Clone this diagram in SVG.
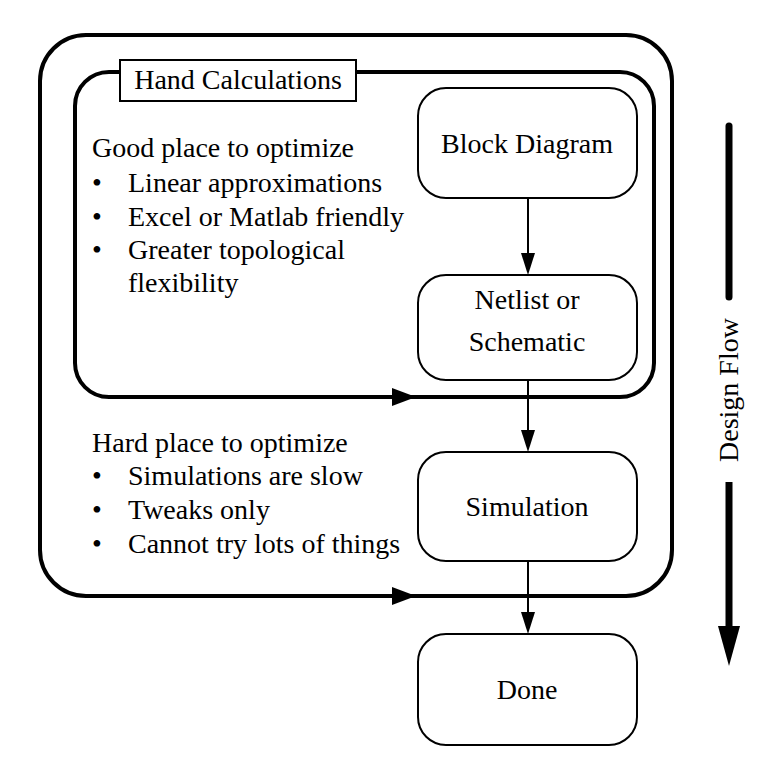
<svg xmlns="http://www.w3.org/2000/svg" width="781" height="775" viewBox="0 0 781 775" font-family="Liberation Serif, Times New Roman, serif">
<style>
text{font-size:28px;fill:#000}
.node{fill:#fff;stroke:#000;stroke-width:2}
.loop{fill:none;stroke:#000;stroke-width:4}
.conn{stroke:#000;stroke-width:2;fill:none}
.c{text-anchor:middle}
</style>
<rect width="781" height="775" fill="#fff"/>
<g id="outer-loop">
<rect class="loop" x="40" y="35" width="632" height="561" rx="46" ry="46"/>
<polygon points="392,587 416,596 392,605" fill="#000"/>
</g>
<g id="inner-loop">
<rect class="loop" x="75" y="72" width="579" height="325" rx="34" ry="34"/>
<polygon points="392,388 416,397 392,406" fill="#000"/>
</g>
<g id="hand-calculations">
<rect x="120" y="60" width="236" height="41" fill="#fff" stroke="#000" stroke-width="2"/>
<text class="c" x="238" y="89" font-family="Liberation Serif">Hand Calculations</text>
</g>
<g id="good-text" font-family="Liberation Serif">
<text x="92" y="157">Good place to optimize</text>
<text x="92" y="192">•</text><text x="128" y="192">Linear approximations</text>
<text x="92" y="226">•</text><text x="128" y="226">Excel or Matlab friendly</text>
<text x="92" y="259">•</text><text x="128" y="259">Greater topological</text>
<text x="128" y="292">flexibility</text>
</g>
<g id="hard-text" font-family="Liberation Serif">
<text x="92" y="452">Hard place to optimize</text>
<text x="92" y="485">•</text><text x="128" y="485">Simulations are slow</text>
<text x="92" y="519">•</text><text x="128" y="519">Tweaks only</text>
<text x="92" y="553">•</text><text x="128" y="553">Cannot try lots of things</text>
</g>
<g id="connectors">
<line class="conn" x1="528" y1="198" x2="528" y2="255"/>
<polygon points="521,253 535,253 528,275" fill="#000"/>
<line class="conn" x1="528" y1="380" x2="528" y2="432"/>
<polygon points="521,430 535,430 528,452" fill="#000"/>
<line class="conn" x1="528" y1="561" x2="528" y2="614"/>
<polygon points="521,612 535,612 528,634" fill="#000"/>
</g>
<g id="block-diagram" font-family="Liberation Serif">
<rect class="node" x="418" y="88" width="219" height="110" rx="28" ry="28"/>
<text class="c" x="527" y="153">Block Diagram</text>
</g>
<g id="netlist" font-family="Liberation Serif">
<rect class="node" x="418" y="275" width="219" height="105" rx="28" ry="28"/>
<text class="c" x="527" y="309">Netlist or</text>
<text class="c" x="527" y="351">Schematic</text>
</g>
<g id="simulation" font-family="Liberation Serif">
<rect class="node" x="418" y="452" width="219" height="109" rx="28" ry="28"/>
<text class="c" x="527" y="516">Simulation</text>
</g>
<g id="done" font-family="Liberation Serif">
<rect class="node" x="418" y="634" width="219" height="111" rx="28" ry="28"/>
<text class="c" x="527" y="699">Done</text>
</g>
<g id="design-flow" font-family="Liberation Serif">
<line x1="729" y1="126" x2="729" y2="297" stroke="#000" stroke-width="7" stroke-linecap="round"/>
<line x1="729" y1="482" x2="729" y2="630" stroke="#000" stroke-width="7"/>
<polygon points="718,626 740,626 729,666" fill="#000"/>
<text class="c" transform="translate(738,390) rotate(-90)">Design Flow</text>
</g>
</svg>
